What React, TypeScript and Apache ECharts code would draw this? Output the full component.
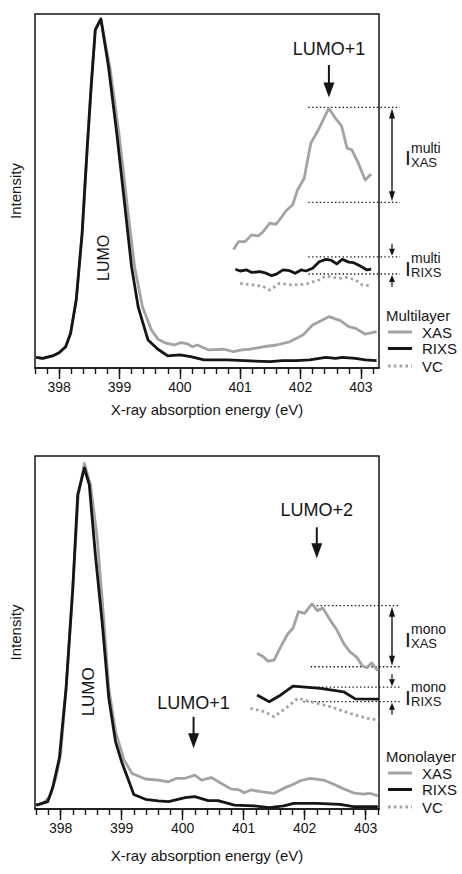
import React, { useEffect, useRef } from "react";
import * as echarts from "echarts";

const FONT = '"Liberation Sans", Arial, Helvetica, sans-serif';
const INK = "#151515";
const GRAY = "#a3a3a3";

// Photon energy axis (eV)
const energyTicks = [398, 399, 400, 401, 402, 403];
const minorTicks = [
  397.6, 397.8, 398.0, 398.2, 398.4, 398.6, 398.8, 399.0, 399.2, 399.4, 399.6,
  399.8, 400.0, 400.2, 400.4, 400.6, 400.8, 401.0, 401.2, 401.4, 401.6, 401.8,
  402.0, 402.2, 402.4, 402.6, 402.8, 403.0, 403.2,
];
const multiRange = [397.6, 403.3];
const monoRange = [397.58, 403.22];

// ---- Multilayer: [energy eV, intensity arb. u.] ----
const multiXas: [number, number][] = [
  [397.617, 3.0], [397.727, 2.7], [397.89, 3.4], [398.0, 4.3], [398.108, 6.0],
  [398.19, 9.8], [398.283, 19.2], [398.381, 38.1], [398.463, 61.6], [398.534, 80.4],
  [398.599, 95.5], [398.692, 98.6], [398.84, 85.1], [398.99, 66.4], [399.13, 45.6],
  [399.25, 28.6], [399.38, 17.3], [399.53, 10.7], [399.64, 8.1], [399.77, 7.0],
  [399.91, 6.5], [400.02, 7.15], [400.13, 6.8], [400.21, 6.0], [400.29, 6.5],
  [400.48, 5.1], [400.73, 5.3], [400.89, 4.6], [401.03, 5.1], [401.16, 5.3],
  [401.38, 6.0], [401.6, 6.5], [401.82, 7.4], [402.04, 9.3], [402.2, 12.15],
  [402.47, 14.5], [402.66, 13.4], [402.8, 11.7], [402.91, 11.2], [403.07, 9.6],
  [403.26, 10.25],
];
const multiRixs: [number, number][] = [
  [397.617, 3.0], [397.727, 2.7], [397.89, 3.4], [398.0, 4.3], [398.108, 6.0],
  [398.19, 9.8], [398.283, 19.2], [398.381, 38.1], [398.463, 61.6], [398.534, 80.4],
  [398.599, 95.5], [398.692, 98.6], [398.818, 85.1], [398.954, 66.4], [399.09, 45.6],
  [399.2, 28.6], [399.309, 17.3], [399.473, 7.9], [399.637, 5.3], [399.8, 3.4],
  [400.0, 3.7], [400.18, 3.2], [400.4, 2.3], [400.78, 2.3], [401.16, 2.0],
  [401.49, 1.8], [401.7, 2.1], [401.93, 2.1], [402.15, 2.3], [402.42, 3.0],
  [402.58, 2.7], [402.69, 3.0], [402.91, 2.7], [403.07, 2.3], [403.26, 2.1],
];
// magnified and offset copies around LUMO+1
const multiXasZoom: [number, number][] = [
  [400.89, 33.5], [400.97, 35.7], [401.08, 35.7], [401.19, 37.6], [401.3, 37.3],
  [401.38, 38.5], [401.49, 40.9], [401.59, 40.6], [401.68, 42.5], [401.76, 44.4],
  [401.87, 46.1], [401.95, 50.3], [402.06, 53.6], [402.17, 63.5], [402.28, 66.8],
  [402.47, 73.4], [402.58, 70.5], [402.68, 68.4], [402.77, 62.1], [402.85, 61.6],
  [402.96, 57.8], [403.07, 53.1], [403.17, 54.8],
];
const multiRixsZoom: [number, number][] = [
  [400.92, 27.9], [401.0, 27.4], [401.11, 27.7], [401.19, 27.0], [401.33, 27.2],
  [401.41, 26.9], [401.52, 26.1], [401.6, 26.5], [401.71, 27.7], [401.82, 27.5],
  [401.91, 26.75], [402.01, 27.7], [402.09, 27.4], [402.2, 28.2], [402.31, 30.0],
  [402.42, 30.7], [402.5, 30.5], [402.6, 29.4], [402.69, 30.7], [402.8, 29.9],
  [402.88, 29.75], [402.99, 28.8], [403.1, 27.7], [403.17, 27.9],
];
const multiVc: [number, number][] = [
  [401.0, 23.9], [401.22, 23.45], [401.38, 23.0], [401.49, 22.0], [401.65, 23.9],
  [401.87, 23.45], [402.09, 23.7], [402.31, 24.9], [402.42, 26.0], [402.64, 25.3],
  [402.75, 25.6], [402.91, 24.9], [403.02, 23.45], [403.16, 23.2],
];

// ---- Monolayer ----
const monoXas: [number, number][] = [
  [397.6, 1.1], [397.71, 1.6], [397.82, 3.5], [397.92, 8.7], [398.0, 15.3],
  [398.09, 34.2], [398.2, 62.5], [398.29, 89.0], [398.39, 97.9], [398.49, 91.8],
  [398.6, 76.7], [398.71, 53.1], [398.79, 34.2], [398.9, 21.9], [399.04, 13.9],
  [399.17, 10.1], [399.39, 8.5], [399.6, 8.2], [399.77, 7.7], [399.9, 8.7],
  [400.04, 8.7], [400.2, 9.6], [400.31, 8.2], [400.47, 8.9], [400.63, 7.3],
  [400.79, 5.7], [400.93, 5.4], [401.01, 4.6], [401.12, 5.4], [401.28, 4.9],
  [401.5, 4.45], [401.66, 5.9], [401.82, 7.0], [401.93, 8.0], [402.09, 8.7],
  [402.31, 8.2], [402.47, 7.1], [402.64, 5.7], [402.8, 4.6], [402.96, 4.2],
  [403.07, 4.45], [403.2, 3.7],
];
const monoRixs: [number, number][] = [
  [397.6, 1.1], [397.79, 2.1], [397.87, 6.0], [397.98, 14.5], [398.09, 34.3],
  [398.2, 62.6], [398.28, 89.0], [398.39, 96.6], [398.47, 91.8], [398.57, 72.0],
  [398.68, 53.1], [398.79, 31.4], [398.9, 19.1], [399.0, 13.4], [399.2, 4.1],
  [399.39, 2.75], [399.6, 2.3], [399.77, 2.1], [400.04, 3.2], [400.2, 3.5],
  [400.42, 2.35], [400.58, 2.35], [400.85, 1.1], [401.17, 0.9], [401.42, 0.4],
  [401.66, 0.9], [401.82, 1.6], [402.2, 1.6], [402.58, 1.3], [402.8, 0.65],
  [403.2, 0.65],
];
// magnified and offset copies around LUMO+2
const monoXasZoom: [number, number][] = [
  [401.22, 44.1], [401.31, 43.3], [401.4, 41.9], [401.5, 42.2], [401.61, 46.0],
  [401.72, 49.5], [401.81, 51.2], [401.9, 55.9], [402.0, 55.4], [402.12, 58.1],
  [402.21, 56.2], [402.3, 56.9], [402.42, 53.5], [402.53, 50.7], [402.64, 46.9],
  [402.74, 44.6], [402.85, 43.1], [402.95, 40.5], [403.02, 40.0], [403.1, 41.4],
  [403.2, 39.2],
];
const monoRixsZoom: [number, number][] = [
  [401.22, 32.3], [401.42, 30.4], [401.61, 32.3], [401.81, 34.8], [402.26, 34.2],
  [402.64, 33.2], [402.83, 31.2], [403.22, 31.1],
];
const monoVc: [number, number][] = [
  [401.11, 28.5], [401.34, 27.6], [401.5, 26.15], [401.69, 28.5], [401.89, 31.4],
  [402.1, 30.4], [402.42, 29.0], [402.74, 27.1], [403.02, 25.7], [403.22, 25.2],
];

// Peak assignments: [label, energy, text level, arrow tail level, arrow tip level]
const multiPeaks: [string, number, number, number, number][] = [
  ["LUMO+1", 402.47, 90.1, 85.6, 76.4],
];
const monoPeaks: [string, number, number, number, number][] = [
  ["LUMO+2", 402.2, 84.7, 79.8, 71.0],
  ["LUMO+1", 400.18, 29.9, 26.1, 17.2],
];
// Rotated LUMO label position: [energy, level]
const multiLumo = [398.73, 31.1];
const monoLumo = [398.455, 33.2];
// Intensity brackets: [top level, bottom level, start energy of upper / lower dotted guide]
const multiBrackets: [number, number, number, number][] = [
  [73.6, 46.8, 402.13, 402.13],
  [31.4, 26.55, 402.13, 402.13],
];
const monoBrackets: [number, number, number, number][] = [
  [57.6, 40.3, 402.2, 402.1],
  [34.5, 30.4, 402.1, 401.98],
];

function lineSeries(name: string, data: [number, number][], xi: number, yi: number, color: string, dotted = false) {
  return {
    type: "line",
    name,
    data,
    xAxisIndex: xi,
    yAxisIndex: yi,
    symbol: "none",
    showSymbol: false,
    silent: true,
    clip: true,
    lineStyle: { color, width: 2.8, type: dotted ? [2.6, 3.2] : "solid", cap: "butt", join: "round" },
  };
}

function xAxes(grid: number, range: number[], nameGap: number) {
  const tickStyle = { color: INK, width: 1.4 };
  return [
    {
      type: "value",
      gridIndex: grid,
      min: range[0],
      max: range[1],
      position: "bottom",
      axisLine: { show: true, onZero: false, lineStyle: { color: INK, width: 1.5 } },
      axisTick: { show: true, customValues: energyTicks, length: 11, lineStyle: tickStyle },
      axisLabel: { show: true, customValues: energyTicks, fontSize: 14, color: INK, margin: 12, fontFamily: FONT },
      splitLine: { show: false },
      name: "X-ray absorption energy (eV)",
      nameLocation: "middle",
      nameGap,
      nameTextStyle: { fontSize: 15, color: INK, fontFamily: FONT },
    },
    {
      type: "value",
      gridIndex: grid,
      min: range[0],
      max: range[1],
      position: "bottom",
      axisLine: { show: false, onZero: false },
      axisTick: { show: true, customValues: minorTicks, length: 6, lineStyle: tickStyle },
      axisLabel: { show: false },
      splitLine: { show: false },
    },
  ];
}

function yAxis(grid: number) {
  return {
    type: "value",
    gridIndex: grid,
    min: 0,
    max: 100,
    axisLine: { show: false },
    axisTick: { show: false },
    axisLabel: { show: false },
    splitLine: { show: false },
    name: "Intensity",
    nameLocation: "middle",
    nameGap: 12,
    nameTextStyle: { fontSize: 15, color: INK, fontFamily: FONT },
  };
}

function txt(x: number, y: number, text: string, size: number, align = "center", rotation = 0) {
  return {
    type: "text",
    x,
    y,
    rotation,
    silent: true,
    style: {
      text,
      fill: INK,
      font: `${size}px ${FONT}`,
      fontSize: size,
      fontFamily: FONT,
      align,
      textAlign: align,
      verticalAlign: "middle",
      textVerticalAlign: "middle",
    },
  };
}

function arrowHead(x: number, tip: number, dir: number, w: number, l: number) {
  return {
    type: "polygon",
    silent: true,
    shape: { points: [[x - w / 2, tip - dir * l], [x + w / 2, tip - dir * l], [x, tip]] },
    style: { fill: INK },
  };
}

function arrow(x: number, tail: number, tip: number, w: number, l: number, lw: number) {
  const dir = Math.sign(tip - tail);
  return [
    { type: "line", silent: true, shape: { x1: x, y1: tail, x2: x, y2: tip - dir * l * 0.7 }, style: { stroke: INK, lineWidth: lw } },
    arrowHead(x, tip, dir, w, l),
  ];
}

function dotted(x1: number, x2: number, y: number) {
  return { type: "line", silent: true, shape: { x1, y1: y, x2, y2: y }, style: { stroke: INK, lineWidth: 1.3, lineDash: [1.4, 2.4] } };
}

export default function App() {
  const ref = useRef<HTMLDivElement>(null);

  useEffect(() => {
    document.body.style.margin = "0";
    if (!ref.current) return;
    const chart = echarts.init(ref.current, undefined, { renderer: "svg" });

    const grids = [
      { left: 32, top: 14, width: 347, height: 354 },
      { left: 32, top: 456, width: 347, height: 353 },
    ].map((g) => ({ ...g, show: true, borderColor: INK, borderWidth: 1.5, backgroundColor: "transparent" }));

    chart.setOption({
      animation: false,
      textStyle: { fontFamily: FONT },
      grid: grids,
      xAxis: [...xAxes(0, multiRange, 34), ...xAxes(1, monoRange, 39)],
      yAxis: [yAxis(0), yAxis(1)],
      series: [
        lineSeries("XAS", multiXas, 0, 0, GRAY),
        lineSeries("RIXS", multiRixs, 0, 0, INK),
        lineSeries("XAS", multiXasZoom, 0, 0, GRAY),
        lineSeries("RIXS", multiRixsZoom, 0, 0, INK),
        lineSeries("VC", multiVc, 0, 0, GRAY, true),
        lineSeries("XAS", monoXas, 2, 1, GRAY),
        lineSeries("RIXS", monoRixs, 2, 1, INK),
        lineSeries("XAS", monoXasZoom, 2, 1, GRAY),
        lineSeries("RIXS", monoRixsZoom, 2, 1, INK),
        lineSeries("VC", monoVc, 2, 1, GRAY, true),
      ],
    });

    const panels = [
      { series: 0, grid: grids[0], peaks: multiPeaks, lumo: multiLumo, lumoSize: 16, brackets: multiBrackets, tag: "multi", title: "Multilayer" },
      { series: 5, grid: grids[1], peaks: monoPeaks, lumo: monoLumo, lumoSize: 17, brackets: monoBrackets, tag: "mono", title: "Monolayer" },
    ];

    const graphics: any[] = [];
    panels.forEach((p) => {
      const toPx = (e: number, v: number) => chart.convertToPixel({ seriesIndex: p.series }, [e, v]) as number[];
      const right = p.grid.left + p.grid.width;
      const guideEnd = right + 21;
      const bx = right + 13;

      // rotated LUMO label
      const lp = toPx(p.lumo[0], p.lumo[1]);
      graphics.push(txt(lp[0], lp[1], "LUMO", p.lumoSize, "center", Math.PI / 2));

      // peak arrows
      p.peaks.forEach(([label, e, textLv, tailLv, tipLv]) => {
        const t = toPx(e, textLv);
        const a = toPx(e, tailLv);
        const b = toPx(e, tipLv);
        graphics.push(txt(t[0], t[1], label, 18));
        graphics.push(...arrow(t[0], a[1], b[1], 11, 15, 2));
      });

      // intensity brackets
      p.brackets.forEach(([hi, lo, e1, e2], k) => {
        const h = toPx(e1, hi);
        const l = toPx(e2, lo);
        graphics.push(dotted(h[0], guideEnd, h[1]));
        graphics.push(dotted(l[0], guideEnd, l[1]));
        if (k === 0) {
          graphics.push({ type: "line", silent: true, shape: { x1: bx, y1: h[1] + 6, x2: bx, y2: l[1] - 6 }, style: { stroke: INK, lineWidth: 1.4 } });
          graphics.push(arrowHead(bx, h[1] + 1, -1, 6, 10));
          graphics.push(arrowHead(bx, l[1] - 1, 1, 6, 10));
        } else {
          graphics.push(...arrow(bx, h[1] - 13, h[1] - 1, 6, 7, 1.2));
          graphics.push(...arrow(bx, l[1] + 13, l[1] + 1, 6, 7, 1.2));
        }
        const mid = (h[1] + l[1]) / 2;
        graphics.push(txt(right + 26, mid + 3, "I", 21, "left"));
        graphics.push(txt(right + 32, mid - 7, p.tag, 14, "left"));
        graphics.push(txt(right + 32, mid + 7.5, k === 0 ? "XAS" : "RIXS", 13, "left"));
      });

      // legend
      const top = p.grid.top + p.grid.height;
      const rows: [string, string, boolean, number][] = [
        ["XAS", GRAY, false, top - 36],
        ["RIXS", INK, false, top - 19.5],
        ["VC", GRAY, true, top - 2],
      ];
      graphics.push(txt(right + 7, top - 53, p.title, 15, "left"));
      rows.forEach(([name, color, dash, y]) => {
        graphics.push({
          type: "line",
          silent: true,
          shape: { x1: right + 9, y1: y, x2: right + 33, y2: y },
          style: { stroke: color, lineWidth: 3, lineDash: dash ? [2.6, 3.2] : null },
        });
        graphics.push(txt(right + 43, y, name, 15, "left"));
      });
    });

    chart.setOption({ graphic: graphics });

    return () => chart.dispose();
  }, []);

  return <div ref={ref} style={{ width: 462, height: 874 }} />;
}
